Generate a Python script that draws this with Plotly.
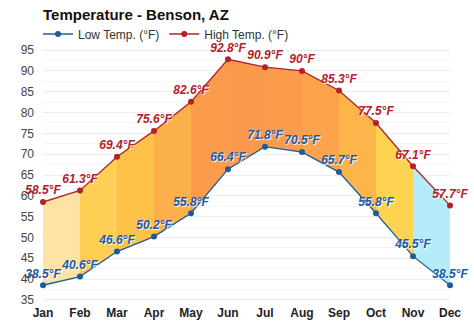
import plotly.graph_objects as go

months = ["Jan", "Feb", "Mar", "Apr", "May", "Jun", "Jul", "Aug", "Sep", "Oct", "Nov", "Dec"]
high = [58.5, 61.3, 69.4, 75.6, 82.6, 92.8, 90.9, 90.0, 85.3, 77.5, 67.1, 57.7]
low = [38.5, 40.6, 46.6, 50.2, 55.8, 66.4, 71.8, 70.5, 65.7, 55.8, 45.5, 38.5]
band_colors = ["#fde3a4", "#fece55", "#fdc247", "#fcb04a", "#fb9b4c", "#fb9a4c",
               "#fb9b4c", "#fca34c", "#fdb44b", "#fed352", "#b5ecfa"]
y_ticks = [35, 40, 45, 50, 55, 60, 65, 70, 75, 80, 85, 90, 95]

fig = go.Figure()
x = list(range(len(months)))

for i in range(len(months) - 1):
    fig.add_trace(go.Scatter(
        x=[x[i], x[i + 1], x[i + 1], x[i], x[i]],
        y=[low[i], low[i + 1], high[i + 1], high[i], low[i]],
        fill="toself", fillcolor=band_colors[i], mode="none",
        line=dict(width=0), showlegend=False, hoverinfo="skip"))

def lab(v):
    return f"{v:g}°F"

fig.add_trace(go.Scatter(
    x=x, y=low, mode="lines+markers+text", name="Low Temp. (°F)", cliponaxis=False,
    line=dict(color="#1f5b96", width=1.3), marker=dict(color="#1f5b96", size=6),
    text=[lab(v) for v in low], textposition="top center",
    textfont=dict(color="#1a5aa6", size=12, family="Arial, Liberation Sans", weight="bold",
                  style="italic", shadow="1px 1px 1px white")))
fig.add_trace(go.Scatter(
    x=x, y=high, mode="lines+markers+text", name="High Temp. (°F)", cliponaxis=False,
    line=dict(color="#b3202a", width=1.3), marker=dict(color="#b3202a", size=6),
    text=[lab(v) for v in high], textposition="top center",
    textfont=dict(color="#b3202a", size=12, family="Arial, Liberation Sans", weight="bold",
                  style="italic", shadow="1px 1px 1px white")))

fig.update_layout(
    width=474, height=331,
    margin=dict(l=43, r=24, t=46, b=27, autoexpand=False),
    paper_bgcolor="white", plot_bgcolor="white",
    font=dict(family="Liberation Sans, Arial", color="#333"),
    title=dict(text="<b>Temperature - Benson, AZ</b>", x=43 / 474, xref="container",
               xanchor="left", yref="container", y=1 - 15 / 331, yanchor="middle",
               font=dict(size=15, color="#111")),
    legend=dict(orientation="h", xref="container", yref="container",
                x=38 / 474, y=1 - 34 / 331, xanchor="left", yanchor="middle",
                font=dict(size=12, color="#333"), bgcolor="rgba(0,0,0,0)",
                traceorder="normal"),
    showlegend=True,
)
fig.update_xaxes(range=[0, 11], tickvals=x, ticktext=[f"<b>{m}</b>" for m in months],
                 showgrid=False, zeroline=False, tickfont=dict(size=12, color="#222"),
                 ticks="", fixedrange=True, automargin=False)
fig.update_yaxes(range=[34, 96], tickvals=y_ticks, showgrid=True, gridcolor="#ececec",
                 gridwidth=1, zeroline=False, tickfont=dict(size=12, color="#444"),
                 ticks="", ticklabelstandoff=8, automargin=False,
                 minor=dict(dtick=2.5, tick0=0, showgrid=True, gridcolor="#f4f4f4"))

fig.write_html("out.html")
